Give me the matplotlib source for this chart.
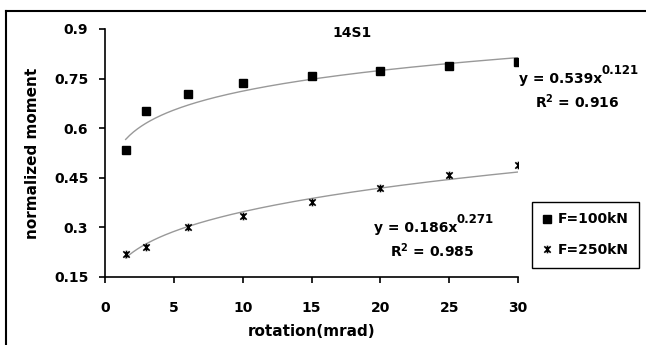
import matplotlib
matplotlib.use("Agg")
import matplotlib.pyplot as plt
import numpy as np
from matplotlib.path import Path
from matplotlib.lines import Line2D

plt.rcParams['font.family'] = ['DejaVu Sans']
plt.rcParams['font.weight'] = 'bold'
plt.rcParams['mathtext.default'] = 'bf'

rotation = [1.5, 3, 6, 10, 15, 20, 25, 30]
moment_100 = [0.534, 0.652, 0.704, 0.737, 0.758, 0.773, 0.788, 0.800]
moment_250 = [0.220, 0.240, 0.300, 0.335, 0.376, 0.418, 0.459, 0.489]

# power trendline coefficients as shown on the chart
fit_100 = (0.539, 0.121)
fit_250 = (0.186, 0.271)

# excel-style asterisk marker: x plus vertical bar
star = Path([(-1, -1), (1, 1), (-1, 1), (1, -1), (0, -1.2), (0, 1.2)],
            [Path.MOVETO, Path.LINETO, Path.MOVETO, Path.LINETO, Path.MOVETO, Path.LINETO])

W, H = 646, 345
fig = plt.figure(figsize=(W / 100, H / 100), dpi=100)
ax = fig.add_axes([105/W, 1 - 277/H, 413/W, 248/H])

def px(x, y):
    return x / W, 1 - y / H

xs = np.linspace(rotation[0], rotation[-1], 200)
ax.plot(xs, fit_100[0] * xs ** fit_100[1], color='#999999', lw=1)
ax.plot(xs, fit_250[0] * xs ** fit_250[1], color='#999999', lw=1)

ax.plot(rotation, moment_100, ls='none', marker='s', ms=5.5, color='black', label='F=100kN')
ax.plot(rotation, moment_250, ls='none', marker=star, ms=5.5, mew=1.2, color='black', label='F=250kN')

ax.set_xlim(0, 30)
ax.set_ylim(0.15, 0.9)
ax.set_xticks([0, 5, 10, 15, 20, 25, 30])
ax.set_yticks([0.15, 0.3, 0.45, 0.6, 0.75, 0.9])
ax.set_yticklabels(['0.15', '0.3', '0.45', '0.6', '0.75', '0.9'])
ax.tick_params(labelsize=10, direction='out', length=4, width=1.2)
ax.tick_params(axis='x', pad=13)
ax.tick_params(axis='y', pad=8)
for lab in ax.get_xticklabels() + ax.get_yticklabels():
    lab.set_fontweight('bold')
for s in ['top', 'right']:
    ax.spines[s].set_visible(False)
for s in ['left', 'bottom']:
    ax.spines[s].set_linewidth(1.2)

fig.text(*px(33, 153), 'normalized moment', rotation=90, ha='center', va='center', fontsize=11, fontweight='bold')
fig.text(*px(312, 332), 'rotation(mrad)', ha='center', va='center', fontsize=11, fontweight='bold')
fig.text(*px(352, 33), '14S1', ha='center', va='center', fontsize=10, fontweight='bold')

# trendline equations: base text + separate superscript
fig.text(*px(602, 83), 'y = 0.539x', ha='right', va='baseline', fontsize=10, fontweight='bold')
fig.text(*px(602, 74), '0.121', ha='left', va='baseline', fontsize=8.5, fontweight='bold')
fig.text(*px(577, 108), r'R$^{2}$ = 0.916', ha='center', va='baseline', fontsize=10, fontweight='bold')
fig.text(*px(457, 232), 'y = 0.186x', ha='right', va='baseline', fontsize=10, fontweight='bold')
fig.text(*px(457, 223), '0.271', ha='left', va='baseline', fontsize=8.5, fontweight='bold')
fig.text(*px(432, 257), r'R$^{2}$ = 0.985', ha='center', va='baseline', fontsize=10, fontweight='bold')

leg = fig.legend(loc='upper left', bbox_to_anchor=px(532, 202), fancybox=False,
                 edgecolor='black', framealpha=1, fontsize=10, handlelength=0.6,
                 handletextpad=0.5, borderpad=0.75, labelspacing=1.2, borderaxespad=0)
leg.get_frame().set_linewidth(1)
for t in leg.get_texts():
    t.set_fontweight('bold')

# outer chart frame (only top and left edges visible)
fig.add_artist(Line2D([6/W, 1], [1 - 11/H, 1 - 11/H], transform=fig.transFigure, color='black', lw=1.5))
fig.add_artist(Line2D([6/W, 6/W], [0, 1 - 11/H], transform=fig.transFigure, color='black', lw=1.5))

fig.savefig('out.png', dpi=100)
